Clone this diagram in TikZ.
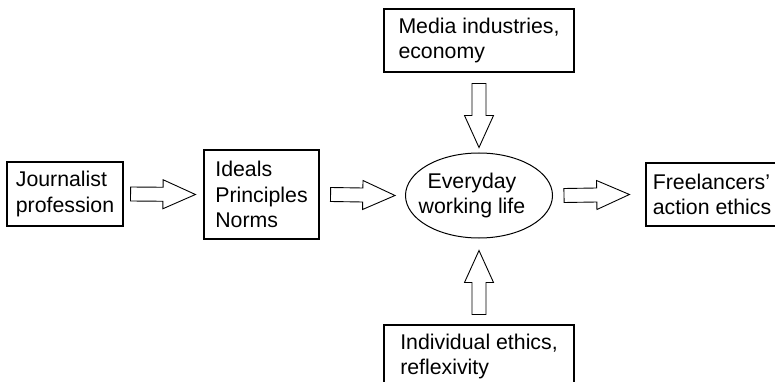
\documentclass[tikz,border=0pt]{standalone}
\usepackage{fontspec}
\setmainfont{Liberation Sans}
\usetikzlibrary{calc,shapes.geometric}
\tikzset{
	box/.style={draw, line width=1.1pt, align=left, inner sep=0pt},
	hollow/.style={draw, line width=0.9pt, line join=miter},
}
% hollow block arrow from #1 (tail) to #2 (tip)
\newcommand{\hollowarrow}[2]{%
	\draw[hollow] ($(#1)!7pt!90:(#2)$) -- ($(#1)!0.5!(#2)!7pt!90:(#2)$)
		-- ($(#1)!0.5!(#2)!14.5pt!90:(#2)$) -- (#2)
		-- ($(#1)!0.5!(#2)!14.5pt!-90:(#2)$) -- ($(#1)!0.5!(#2)!7pt!-90:(#2)$)
		-- ($(#1)!7pt!-90:(#2)$) -- cycle;}
\begin{document}
\begin{tikzpicture}[x=1pt, y=-1pt, font=\fontsize{21.3}{25.5}\selectfont]
		\useasboundingbox (0,0) rectangle (775,382);
		\clip (0,0) rectangle (775,382);
		\node[box, minimum width=116pt, minimum height=64pt] (jp) at (65,194) {Journalist\\profession};
		\node[box, minimum width=115pt, minimum height=89pt] (ideals) at (261.5,194.5) {Ideals\\Principles\\Norms};
		\node[draw, ellipse, line width=1pt, inner sep=0pt, minimum width=147pt, minimum height=85pt,
			label={[align=center, xshift=-7pt]center:Everyday\\working life}] (life) at (479,195.5) {};
		\node[box, minimum width=132pt, minimum height=63pt] (free) at (712,194.5) {Freelancers'\\action ethics};
		\node[box, minimum width=190pt, minimum height=63pt] (media) at (479,40.5) {Media industries,\\economy};
		\node[box, minimum width=190pt, minimum height=63pt] (ind) at (479,356.5) {Individual ethics,\\reflexivity};
		\coordinate (a1s) at ([xshift=7pt]jp.east);
		\coordinate (a1e) at ([xshift=-8pt]ideals.west);
		\coordinate (a2s) at ([xshift=11pt]ideals.east);
		\coordinate (a2e) at ([xshift=-10pt]life.west);
		\coordinate (a3s) at ([xshift=11pt]life.east);
		\coordinate (a3e) at ([xshift=-16pt]free.west);
		\coordinate (a4s) at ([yshift=-11pt]media.south);
		\coordinate (a4e) at ([yshift=5pt]life.north);
		\coordinate (a5s) at ([yshift=10pt]ind.north);
		\coordinate (a5e) at ([yshift=-12pt]life.south);
		\hollowarrow{a1s}{a1e}
		\hollowarrow{a2s}{a2e}
		\hollowarrow{a3s}{a3e}
		\hollowarrow{a4s}{a4e}
		\hollowarrow{a5s}{a5e}
	\end{tikzpicture}
\end{document}
